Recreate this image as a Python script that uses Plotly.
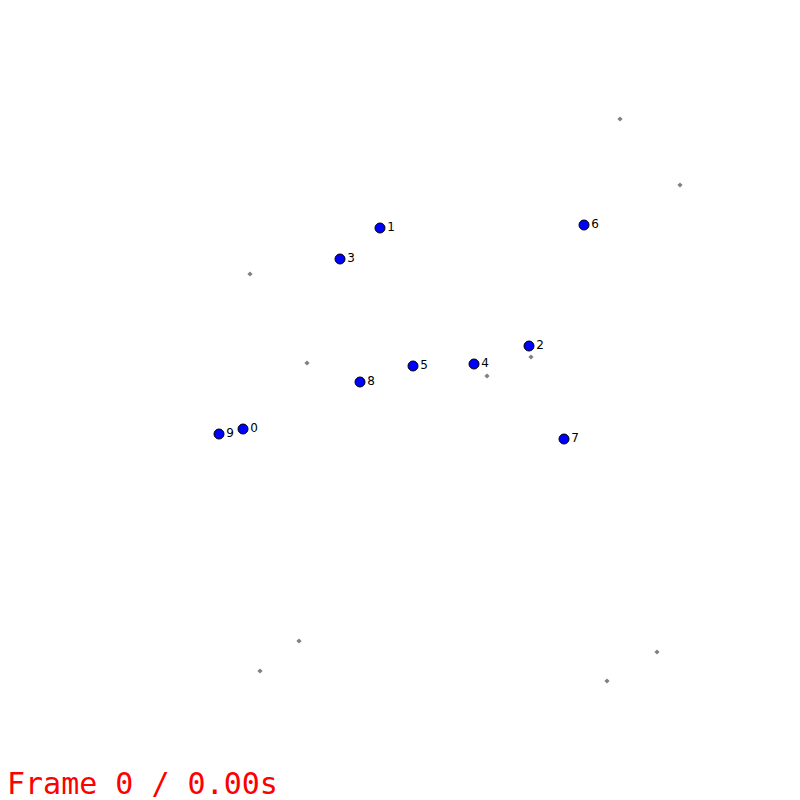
import plotly.graph_objects as go

# Labeled points (pixel coordinates of the scene)
labels = ["0", "1", "2", "3", "4", "5", "6", "7", "8", "9"]
px = [243, 380, 529, 340, 474, 413, 584, 564, 360, 219]
py = [429, 228, 346, 259, 364, 366, 225, 439, 382, 434]

# Small gray markers
gx = [620, 680, 250, 307, 531, 487, 299, 260, 657, 607]
gy = [119, 185, 274, 363, 357, 376, 641, 671, 652, 681]

frame_text = "Frame 0 / 0.00s"

fig = go.Figure()
fig.add_trace(go.Scatter(
    x=gx, y=gy, mode="markers",
    marker=dict(size=4, color="#808080", symbol="diamond"),
    hoverinfo="skip", showlegend=False))
fig.add_trace(go.Scatter(
    x=px, y=py, mode="markers+text", text=labels,
    textposition="middle right",
    textfont=dict(family="DejaVu Sans", size=12, color="black"),
    marker=dict(size=10, color="#0000ff", line=dict(color="black", width=1)),
    showlegend=False))

fig.add_annotation(
    text=frame_text, x=0.006, y=0, xref="paper", yref="paper",
    xanchor="left", yanchor="bottom", showarrow=False, yshift=-3,
    font=dict(family="DejaVu Sans Mono", size=30, color="red"))

fig.update_layout(
    width=800, height=800,
    margin=dict(l=0, r=0, t=0, b=0),
    paper_bgcolor="white", plot_bgcolor="white",
    xaxis=dict(range=[0, 800], visible=False, fixedrange=True),
    yaxis=dict(range=[800, 0], visible=False, fixedrange=True),
)
fig.write_html("out.html")
